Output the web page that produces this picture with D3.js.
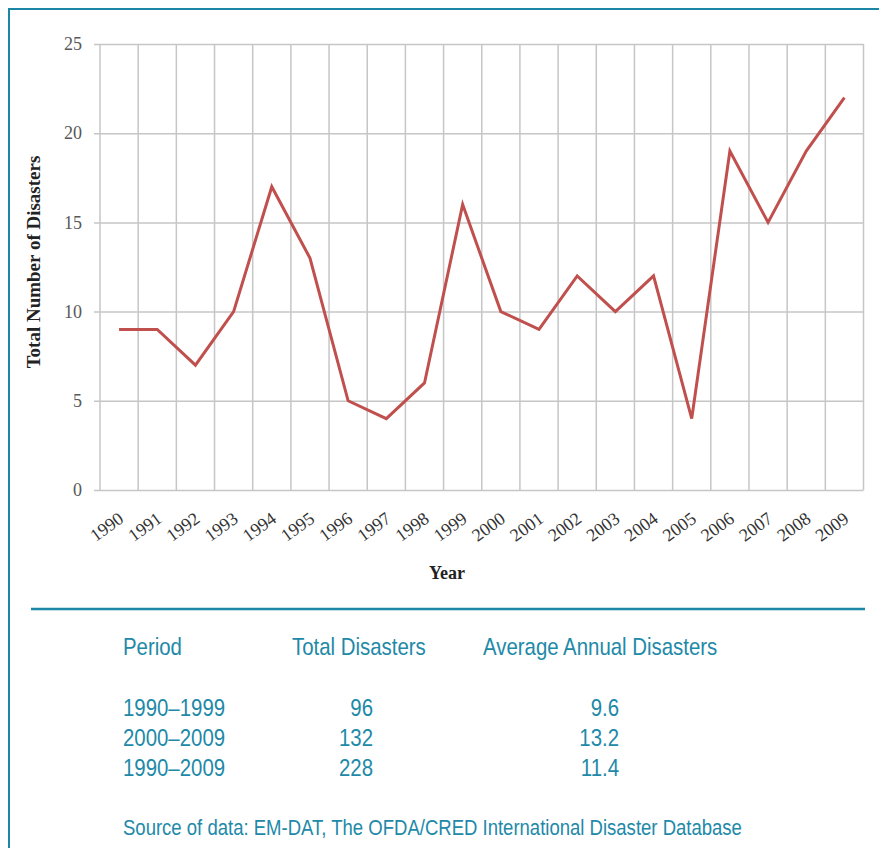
<!DOCTYPE html>
<html>
<head>
<meta charset="utf-8">
<script src="https://cdn.jsdelivr.net/npm/d3@7"></script>
<style>
  body { margin: 0; background: #fff; }
  .tbl { font-family: "Liberation Sans", Arial, sans-serif; fill: #2189a8; }
</style>
</head>
<body>
<div id="chart-container"></div>
<script>
const years = ['1990', '1991', '1992', '1993', '1994', '1995', '1996', '1997', '1998', '1999',
  '2000', '2001', '2002', '2003', '2004', '2005', '2006', '2007', '2008', '2009'];
const disasters = [9, 9, 7, 10, 17, 13, 5, 4, 6, 16, 10, 9, 12, 10, 12, 4, 19, 15, 19, 22];
const yTicks = [0, 5, 10, 15, 20, 25];

const tableHeaders = ['Period', 'Total Disasters', 'Average Annual Disasters'];
const periods = ['1990\u20131999', '2000\u20132009', '1990\u20132009'];
const totals = ['96', '132', '228'];
const averages = ['9.6', '13.2', '11.4'];
const sourceText = 'Source of data: EM-DAT, The OFDA/CRED International Disaster Database';

const w = 879;
const h = 848;
const teal = '#1b86a5';
const squeeze = 0.85; // narrow look of the table font

const svg = d3.select('#chart-container')
  .append('svg')
  .attr('width', w)
  .attr('height', h);

// frame lines
svg.append('line')
  .attr('x1', 8).attr('x2', w).attr('y1', 9).attr('y2', 9)
  .attr('stroke', teal).attr('stroke-width', 2);
svg.append('line')
  .attr('x1', 9).attr('x2', 9).attr('y1', 8).attr('y2', h)
  .attr('stroke', teal).attr('stroke-width', 2);

const xScale = d3.scaleBand()
  .domain(years)
  .range([100, 863.5]);
const yScale = d3.scaleLinear()
  .domain([0, 25])
  .range([490, 44]);

// horizontal grid + y labels
const yAxis = d3.axisLeft(yScale)
  .tickValues(yTicks)
  .tickSize(-(863.5 - 100))
  .tickSizeOuter(0)
  .tickPadding(18);
const gy = svg.append('g')
  .attr('id', 'y-axis')
  .attr('transform', 'translate(100, 0)')
  .call(yAxis);
gy.select('.domain').remove();
gy.selectAll('.tick line')
  .attr('x1', -6)
  .attr('stroke', '#c6c6c6')
  .attr('stroke-width', 1.5);
gy.selectAll('.tick text')
  .attr('font-family', '"Liberation Serif", "Times New Roman", serif')
  .attr('font-size', 18)
  .attr('fill', '#585858');

// vertical grid at band edges
const edges = years.map(y => xScale(y)).concat([xScale.range()[1]]);
svg.append('g')
  .selectAll('line')
  .data(edges)
  .enter()
  .append('line')
  .attr('x1', d => d).attr('x2', d => d)
  .attr('y1', yScale(25)).attr('y2', yScale(0))
  .attr('stroke', '#c6c6c6')
  .attr('stroke-width', 1.5);

// x labels
const xAxis = d3.axisBottom(xScale).tickSize(0).tickPadding(0);
const gx = svg.append('g')
  .attr('id', 'x-axis')
  .attr('transform', 'translate(0, 490)')
  .call(xAxis);
gx.select('.domain').remove();
gx.selectAll('.tick text')
  .attr('font-family', '"Liberation Serif", "Times New Roman", serif')
  .attr('font-size', 18)
  .attr('fill', '#333')
  .attr('text-anchor', 'end')
  .attr('transform', 'translate(2, 26) rotate(-36)')
  .attr('dy', '0.35em')
  .attr('y', 0);

// line
const line = d3.line()
  .x((d, i) => xScale(years[i]) + xScale.bandwidth() / 2)
  .y(d => yScale(d));
svg.append('path')
  .datum(disasters)
  .attr('d', line)
  .attr('fill', 'none')
  .attr('stroke', '#c0504d')
  .attr('stroke-width', 3)
  .attr('stroke-linejoin', 'miter');

// axis titles
svg.append('text')
  .attr('transform', 'translate(40, 262) rotate(-90)')
  .attr('text-anchor', 'middle')
  .attr('font-family', '"Liberation Serif", "Times New Roman", serif')
  .attr('font-weight', 'bold')
  .attr('font-size', 19)
  .attr('fill', '#222')
  .text('Total Number of Disasters');
svg.append('text')
  .attr('x', 447)
  .attr('y', 579)
  .attr('text-anchor', 'middle')
  .attr('font-family', '"Liberation Serif", "Times New Roman", serif')
  .attr('font-weight', 'bold')
  .attr('font-size', 18)
  .attr('fill', '#222')
  .text('Year');

// separator
svg.append('line')
  .attr('x1', 31).attr('x2', 865).attr('y1', 609).attr('y2', 609)
  .attr('stroke', teal).attr('stroke-width', 2.5);

// summary table, drawn in a horizontally squeezed group
const tbl = svg.append('g')
  .attr('class', 'tbl')
  .attr('font-size', 24)
  .attr('transform', `scale(${squeeze}, 1)`);
const sx = x => x / squeeze;
const headerX = [123, 292, 483];
tbl.selectAll('text.head')
  .data(tableHeaders)
  .enter()
  .append('text')
  .attr('class', 'head')
  .attr('x', (d, i) => sx(headerX[i]))
  .attr('y', 655)
  .text(d => d);

const rowY = d3.scalePoint().domain(periods).range([716, 776]);
tbl.selectAll('text.period')
  .data(periods)
  .enter()
  .append('text')
  .attr('x', sx(123))
  .attr('y', d => rowY(d))
  .text(d => d);
tbl.selectAll('text.total')
  .data(totals)
  .enter()
  .append('text')
  .attr('x', sx(373))
  .attr('y', (d, i) => rowY(periods[i]))
  .attr('text-anchor', 'end')
  .text(d => d);
tbl.selectAll('text.avg')
  .data(averages)
  .enter()
  .append('text')
  .attr('x', sx(619))
  .attr('y', (d, i) => rowY(periods[i]))
  .attr('text-anchor', 'end')
  .text(d => d);

tbl.append('text')
  .attr('x', sx(123))
  .attr('y', 835)
  .attr('font-size', 21.8)
  .text(sourceText);
</script>
</body>
</html>
